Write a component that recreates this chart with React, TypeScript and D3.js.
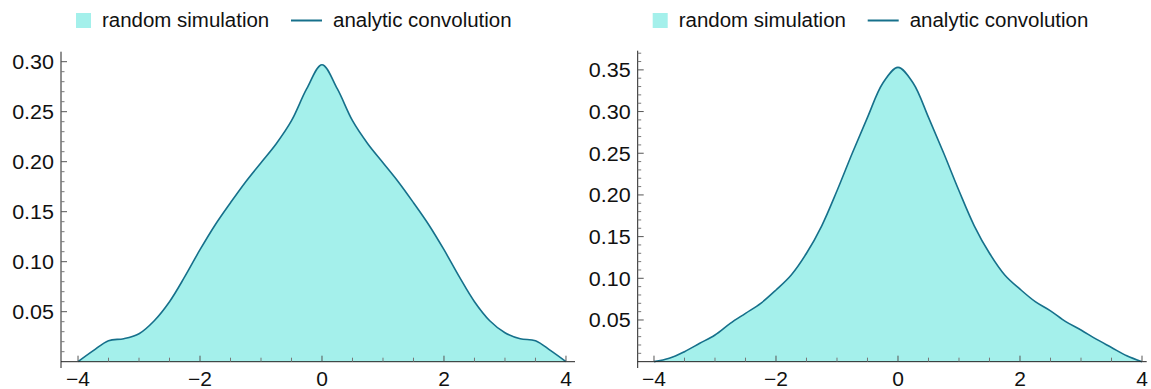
import * as d3 from 'd3';
import React from 'react';

// sample points shared by every curve
const xs = [
  -4, -3.75, -3.5, -3.25, -3, -2.75, -2.5, -2.25, -2, -1.75, -1.5, -1.25, -1, -0.75, -0.5, -0.25,
  0, 0.25, 0.5, 0.75, 1, 1.25, 1.5, 1.75, 2, 2.25, 2.5, 2.75, 3, 3.25, 3.5, 3.75, 4,
];

// left panel
const simLeft = [
  0, 0.011, 0.021, 0.023, 0.028, 0.041, 0.06, 0.085, 0.112, 0.137, 0.159, 0.18, 0.199, 0.218, 0.241, 0.273,
  0.297, 0.273, 0.241, 0.218, 0.199, 0.18, 0.159, 0.137, 0.112, 0.085, 0.06, 0.041, 0.029, 0.023, 0.021, 0.011, 0,
];
const convLeft = [
  0, 0.011, 0.021, 0.023, 0.028, 0.041, 0.06, 0.085, 0.112, 0.137, 0.159, 0.18, 0.199, 0.218, 0.241, 0.273,
  0.297, 0.273, 0.241, 0.218, 0.199, 0.18, 0.159, 0.137, 0.112, 0.085, 0.06, 0.041, 0.029, 0.023, 0.021, 0.011, 0,
];

// right panel
const simRight = [
  0, 0.004, 0.012, 0.022, 0.032, 0.046, 0.058, 0.07, 0.086, 0.104, 0.13, 0.163, 0.205, 0.25, 0.293, 0.334,
  0.353, 0.334, 0.293, 0.25, 0.205, 0.163, 0.13, 0.104, 0.087, 0.072, 0.061, 0.048, 0.038, 0.027, 0.017, 0.007, 0,
];
const convRight = [
  0, 0.004, 0.012, 0.022, 0.032, 0.046, 0.058, 0.07, 0.086, 0.104, 0.13, 0.163, 0.205, 0.25, 0.293, 0.334,
  0.353, 0.334, 0.293, 0.25, 0.205, 0.163, 0.13, 0.104, 0.087, 0.072, 0.061, 0.048, 0.038, 0.027, 0.017, 0.007, 0,
];

const xTicks = [-4, -2, 0, 2, 4];
const yTicksLeft = [0.05, 0.1, 0.15, 0.2, 0.25, 0.3];
const yTicksRight = [0.05, 0.1, 0.15, 0.2, 0.25, 0.3, 0.35];
const legendLabels = ['random simulation', 'analytic convolution'];

const FILL = '#a4f0eb';
const LINE = '#16708b';
const FONT = '"Liberation Sans", Arial, sans-serif';
const STRETCH = 'scale(1.05,1)';

type PanelProps = {
  sim: number[];
  conv: number[];
  yTicks: number[];
  xDomain: [number, number];
  yDomain: [number, number];
  xRange: [number, number];
  yRange: [number, number];
};

function Panel({ sim, conv, yTicks, xDomain, yDomain, xRange, yRange }: PanelProps) {
  const x = d3.scaleLinear().domain(xDomain).range(xRange);
  const y = d3.scaleLinear().domain(yDomain).range(yRange);

  const area = d3
    .area<number>()
    .x((_, i) => x(xs[i]))
    .y0(y(0))
    .y1((d) => y(d))
    .curve(d3.curveCatmullRom.alpha(0.5));
  const line = d3
    .line<number>()
    .x((_, i) => x(xs[i]))
    .y((d) => y(d))
    .curve(d3.curveCatmullRom.alpha(0.5));

  const axisX = xRange[0];
  const y0 = y(0);

  // minor ticks
  const xMinor = d3.range(-4, 4.01, 0.5).filter((v) => !xTicks.includes(v));
  const yMinor = d3
    .range(1, Math.floor(yDomain[1] * 100 - 0.2) + 1)
    .map((k) => k / 100)
    .filter((v) => Math.abs(v * 20 - Math.round(v * 20)) > 1e-6);

  return (
    <g>
      <path d={area(sim) ?? ''} fill={FILL} />
      <path d={line(conv) ?? ''} fill="none" stroke={LINE} strokeWidth={1.6} />

      {/* x axis */}
      <line x1={xRange[0]} x2={xRange[1]} y1={y0} y2={y0} stroke="#222" strokeWidth={1} />
      {xTicks.map((t) => (
        <g key={t}>
          <line x1={x(t)} x2={x(t)} y1={y0} y2={y0 - 6} stroke="#555" />
          <text
            transform={`translate(${x(t)},${y0 + 24}) ${STRETCH}`}
            textAnchor="middle"
            fontSize={20}
            fontFamily={FONT}
            fill="#111"
          >
            {t < 0 ? `\u2212${Math.abs(t)}` : t}
          </text>
        </g>
      ))}
      {xMinor.map((t) => (
        <line key={t} x1={x(t)} x2={x(t)} y1={y0} y2={y0 - 4} stroke="#777" />
      ))}

      {/* y axis */}
      <line x1={axisX} x2={axisX} y1={yRange[0]} y2={yRange[1]} stroke="#222" strokeWidth={1} />
      {yTicks.map((t) => (
        <g key={t}>
          <line x1={axisX} x2={axisX + 6} y1={y(t)} y2={y(t)} stroke="#555" />
          <text
            transform={`translate(${axisX - 7},${y(t) + 7.3}) ${STRETCH}`}
            textAnchor="end"
            fontSize={20.5}
            fontFamily={FONT}
            fill="#111"
          >
            {t.toFixed(2)}
          </text>
        </g>
      ))}
      {yMinor.map((t) => (
        <line key={t} x1={axisX} x2={axisX + 3.5} y1={y(t)} y2={y(t)} stroke="#777" />
      ))}

      {/* legend */}
      <rect x={axisX + 15} y={13} width={15} height={15} fill={FILL} />
      <text transform={`translate(${axisX + 41},27) ${STRETCH}`} fontSize={19.5} fontFamily={FONT} fill="#111">
        {legendLabels[0]}
      </text>
      <line x1={axisX + 230} x2={axisX + 261} y1={20.5} y2={20.5} stroke={LINE} strokeWidth={2} />
      <text transform={`translate(${axisX + 272},27) ${STRETCH}`} fontSize={19.5} fontFamily={FONT} fill="#111">
        {legendLabels[1]}
      </text>
    </g>
  );
}

export default function App() {
  return (
    <svg
      width={1151}
      height={389}
      style={{ position: 'absolute', left: 0, top: 0, background: '#fff' }}
    >
      <Panel
        sim={simLeft}
        conv={convLeft}
        yTicks={yTicksLeft}
        xDomain={[-4.279, 4.148]}
        yDomain={[-0.0063, 0.31]}
        xRange={[61, 575]}
        yRange={[368, 51.7]}
      />
      <Panel
        sim={simRight}
        conv={convRight}
        yTicks={yTicksRight}
        xDomain={[-4.267, 4.077]}
        yDomain={[-0.0076, 0.373]}
        xRange={[637.7, 1146.7]}
        yRange={[368, 50.7]}
      />
    </svg>
  );
}
